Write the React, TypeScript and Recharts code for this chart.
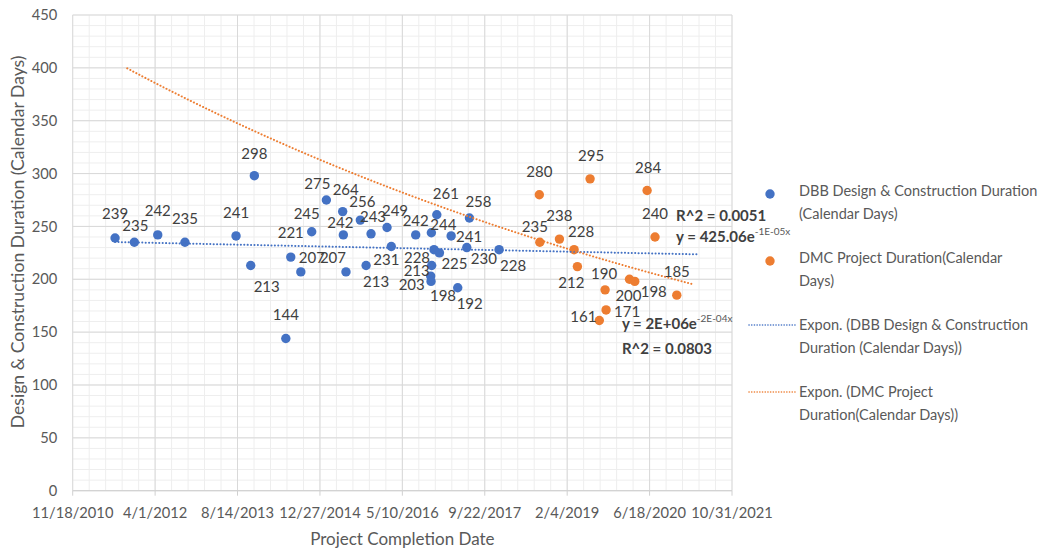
import React from 'react';
import { ScatterChart, Scatter, XAxis, YAxis, CartesianGrid, Legend, ReferenceDot } from 'recharts';

// ---- axis ticks (Excel date serials) ----
const xTicks = [40500, 41000, 41500, 42000, 42500, 43000, 43500, 44000, 44500];
const xTickLabels = ['11/18/2010', '4/1/2012', '8/14/2013', '12/27/2014', '5/10/2016', '9/22/2017', '2/4/2019', '6/18/2020', '10/31/2021'];
const yTicks = [0, 50, 100, 150, 200, 250, 300, 350, 400, 450];
const xMinorTicks: number[] = [];
for (let v = 40500; v <= 44500; v += 100) xMinorTicks.push(v);
const yMinorTicks: number[] = [];
for (let v = 0; v <= 450; v += 10) yMinorTicks.push(v);

// ---- series ----
const dbbDates = [40757, 40874, 41016, 41181, 41491, 41580, 41602, 41793, 41823, 41884, 41950, 42039, 42138, 42142, 42158, 42245, 42280, 42310, 42407, 42433, 42581, 42672, 42674, 42676, 42678, 42692, 42709, 42725, 42796, 42836, 42891, 42907, 43087];
const dbbValues = [239, 235, 242, 235, 241, 213, 298, 144, 221, 207, 245, 275, 264, 242, 207, 256, 213, 243, 249, 231, 242, 203, 198, 244, 213, 228, 261, 225, 241, 192, 230, 258, 228];

const dmcDates = [43331, 43334, 43453, 43542, 43562, 43639, 43695, 43730, 43736, 43878, 43910, 43985, 44033, 44165];
const dmcValues = [280, 235, 238, 228, 212, 295, 161, 190, 171, 200, 198, 284, 240, 185];

const seriesNames = [
  'DBB Design & Construction Duration (Calendar Days)',
  'DMC Project Duration(Calendar Days)',
  'Expon. (DBB Design & Construction Duration (Calendar Days))',
  'Expon. (DMC Project Duration(Calendar Days))',
];
const legendLines = [
  ['DBB Design & Construction Duration', '(Calendar Days)'],
  ['DMC Project Duration(Calendar', 'Days)'],
  ['Expon. (DBB Design & Construction', 'Duration (Calendar Days))'],
  ['Expon. (DMC Project', 'Duration(Calendar Days))'],
];

// trendline forecast periods (days)
const dbbForecast = { backward: 0, forward: 1200 };
const dmcForecast = { backward: 2500, forward: 100 };

// equation annotation texts and anchors (data coords)
const dbbEq = { r2: 'R^2 = 0.0051', base: 'y = 425.06e', exp: '-1E-05x', x: 44161, yR2: 260.4, yEq: 240.3 };
const dmcEq = { r2: 'R^2 = 0.0803', base: 'y = 2E+06e', exp: '-2E-04x', x: 43832, yR2: 134.7, yEq: 158.4 };

// ---- layout for data labels (offset from point centre, px) ----
const dbbLabelOffsets: [number, number][] = [
  [0, -24], [1, -17], [0, -24], [0, -24], [0, -23], [16, 21], [0, -22], [0, -24], [0, -24], [11, -14],
  [-5, -18], [-9, -16], [3, -22], [-3, -12], [-13, -14], [2, -18], [10, 16], [2, -17], [8, -17], [-5, 13],
  [0, -14], [-19, 9], [12, 14], [12, -8], [-15, 5], [-17, 8], [9, -21], [15, 11], [18, 1], [12, 16],
  [17, 11], [9, -16], [14, 16],
];
const dmcLabelOffsets: [number, number][] = [
  [0, -23], [-5, -16], [0, -23], [7, -18], [-6, 16], [1, -23], [-16, -4], [-1, -16], [21, 2], [-1, 16],
  [19, 10], [1, -23], [0, -23], [0, -23],
];

const FONT = 'Lato, "Open Sans", sans-serif';
const LABEL_TEXT = '#404040';
const AXIS_TEXT = '#595959';
const BLUE = '#4472C4';
const ORANGE = '#ED7D31';
const DOT_R = 4.7;

function expFit(xs: number[], ys: number[]) {
  const n = xs.length;
  const mx = xs.reduce((s, v) => s + v, 0) / n;
  const ly = ys.map((v) => Math.log(v));
  const my = ly.reduce((s, v) => s + v, 0) / n;
  let sxy = 0;
  let sxx = 0;
  for (let i = 0; i < n; i++) {
    sxy += (xs[i] - mx) * (ly[i] - my);
    sxx += (xs[i] - mx) * (xs[i] - mx);
  }
  const b = sxy / sxx;
  return { mx, my, b };
}

function trendData(xs: number[], ys: number[], back: number, fwd: number) {
  const { mx, my, b } = expFit(xs, ys);
  const x0 = Math.min(...xs) - back;
  const x1 = Math.max(...xs) + fwd;
  const n = 80;
  const out: { x: number; y: number }[] = [];
  for (let i = 0; i <= n; i++) {
    const x = x0 + ((x1 - x0) * i) / n;
    out.push({ x, y: Math.exp(my + b * (x - mx)) });
  }
  return out;
}

const dbbData = dbbDates.map((x, i) => ({ x, y: dbbValues[i], i }));
const dmcData = dmcDates.map((x, i) => ({ x, y: dmcValues[i], i }));
const dbbTrend = trendData(dbbDates, dbbValues, dbbForecast.backward, dbbForecast.forward);
const dmcTrend = trendData(dmcDates, dmcValues, dmcForecast.backward, dmcForecast.forward);

const dotShape = (color: string) => (p: any) => <circle cx={p.cx} cy={p.cy} r={DOT_R} fill={color} />;
const emptyShape = () => <g />;
const labelShape = (offsets: [number, number][]) => (p: any) => {
  const off = offsets[p.payload.i] || [0, -22];
  return (
    <text
      x={p.cx + off[0]}
      y={p.cy + off[1]}
      dy="0.35em"
      textAnchor="middle"
      fontSize={15}
      fontFamily={FONT}
      fill={LABEL_TEXT}
    >
      {p.payload.y}
    </text>
  );
};

const eqText = (text: string) => (p: any) => (
  <text x={p.cx} y={p.cy} dy="0.35em" fontSize={15} fontWeight="bold" fontFamily={FONT} fill={LABEL_TEXT}>
    {text}
  </text>
);
const eqFormula = (base: string, exp: string) => (p: any) => (
  <text x={p.cx} y={p.cy} dy="0.35em" fontSize={15} fontWeight="bold" fontFamily={FONT} fill={LABEL_TEXT}>
    <tspan>{base}</tspan>
    <tspan dy={-7} fontSize={10} fontWeight="normal" fill={AXIS_TEXT}>{exp}</tspan>
  </text>
);

const renderLegend = (props: any) => {
  const payload = (props.payload || []).filter((e: any) => seriesNames.includes(e.value));
  return (
    <div style={{ fontFamily: FONT, fontSize: 14.5, color: AXIS_TEXT }}>
      {payload.map((e: any, k: number) => {
        const idx = seriesNames.indexOf(e.value);
        const isLine = idx >= 2;
        const color = idx % 2 === 0 ? BLUE : ORANGE;
        return (
          <div key={k} style={{ display: 'flex', height: 46, marginBottom: k < payload.length - 1 ? 20.8 : 0 }}>
            <svg width={51} height={23} style={{ flex: 'none' }}>
              {isLine ? (
                <line x1={1} y1={12} x2={47} y2={12} stroke={color} strokeWidth={1.6} strokeDasharray="0.1 2.6" strokeLinecap="round" />
              ) : (
                <circle cx={22} cy={15} r={DOT_R} fill={color} />
              )}
            </svg>
            <div style={{ lineHeight: '23px', whiteSpace: 'nowrap' }}>
              {legendLines[idx].map((l, j) => (
                <div key={j}>{l}</div>
              ))}
            </div>
          </div>
        );
      })}
    </div>
  );
};

const YLabel = (props: any) => {
  const vb = props.viewBox || { x: 0, y: 0, width: 0, height: 0 };
  const cx = vb.x + 10;
  const cy = vb.y + vb.height / 2 - 11;
  return (
    <text
      x={cx}
      y={cy}
      transform={`rotate(-90, ${cx}, ${cy})`}
      textAnchor="middle"
      dy="0.35em"
      fontSize={17.6}
      fontFamily={FONT}
      fill={AXIS_TEXT}
    >
      Design &amp; Construction Duration (Calendar Days)
    </text>
  );
};

const lineStyle = (color: string) => ({
  stroke: color,
  strokeWidth: 2,
  strokeDasharray: '0.1 3.3',
  strokeLinecap: 'round' as const,
});

export default function App() {
  return (
    <ScatterChart
      width={1033}
      height={544}
      margin={{ top: 7, right: 309, left: 0, bottom: 0 }}
      style={{ fontFamily: FONT }}
    >
      <XAxis xAxisId="minor" type="number" dataKey="x" domain={[40500, 44500]} ticks={xMinorTicks} interval={0} hide allowDataOverflow />
      <YAxis yAxisId="minor" type="number" dataKey="y" domain={[0, 450]} ticks={yMinorTicks} interval={0} hide allowDataOverflow />
      <CartesianGrid xAxisId="minor" yAxisId="minor" stroke="#EEEEEE" />
      <CartesianGrid stroke="#D9D9D9" />
      <XAxis
        type="number"
        dataKey="x"
        domain={[40500, 44500]}
        ticks={xTicks}
        interval={0}
        allowDataOverflow
        tickFormatter={(v: number) => xTickLabels[xTicks.indexOf(v)] ?? ''}
        tick={{ fill: AXIS_TEXT, fontSize: 14.7, fontFamily: FONT }}
        tickSize={5}
        tickMargin={12}
        axisLine={{ stroke: '#D0D0D0' }}
        tickLine={{ stroke: '#D0D0D0' }}
        height={61.3}
        label={{ value: 'Project Completion Date', position: 'insideBottom', offset: 7, fill: AXIS_TEXT, fontSize: 17, fontFamily: FONT }}
      />
      <YAxis
        type="number"
        dataKey="y"
        domain={[0, 450]}
        ticks={yTicks}
        interval={0}
        allowDataOverflow
        width={64.7}
        axisLine={false}
        tickLine={false}
        tickSize={0}
        tickMargin={15.4}
        tick={{ fill: AXIS_TEXT, fontSize: 14.7, fontFamily: FONT }}
        label={<YLabel />}
      />
      <Scatter name={seriesNames[0]} data={dbbData} fill={BLUE} shape={dotShape(BLUE)} legendType="circle" isAnimationActive={false} />
      <Scatter name={seriesNames[1]} data={dmcData} fill={ORANGE} shape={dotShape(ORANGE)} legendType="circle" isAnimationActive={false} />
      <Scatter name={seriesNames[2]} data={dbbTrend} fill={BLUE} shape={emptyShape} line={lineStyle(BLUE)} lineType="joint" legendType="plainline" isAnimationActive={false} />
      <Scatter name={seriesNames[3]} data={dmcTrend} fill={ORANGE} shape={emptyShape} line={lineStyle(ORANGE)} lineType="joint" legendType="plainline" isAnimationActive={false} />
      <Scatter name="dbb-labels" data={dbbData} fill={BLUE} shape={labelShape(dbbLabelOffsets)} legendType="none" isAnimationActive={false} />
      <Scatter name="dmc-labels" data={dmcData} fill={ORANGE} shape={labelShape(dmcLabelOffsets)} legendType="none" isAnimationActive={false} />
      <ReferenceDot x={dbbEq.x} y={dbbEq.yR2} r={0} shape={eqText(dbbEq.r2)} />
      <ReferenceDot x={dbbEq.x} y={dbbEq.yEq} r={0} shape={eqFormula(dbbEq.base, dbbEq.exp)} />
      <ReferenceDot x={dmcEq.x} y={dmcEq.yEq} r={0} shape={eqFormula(dmcEq.base, dmcEq.exp)} />
      <ReferenceDot x={dmcEq.x} y={dmcEq.yR2} r={0} shape={eqText(dmcEq.r2)} />
      <Legend
        layout="vertical"
        align="center"
        verticalAlign="middle"
        wrapperStyle={{ position: 'absolute', left: 740, top: 171.2, width: 290 }}
        content={renderLegend}
      />
    </ScatterChart>
  );
}
